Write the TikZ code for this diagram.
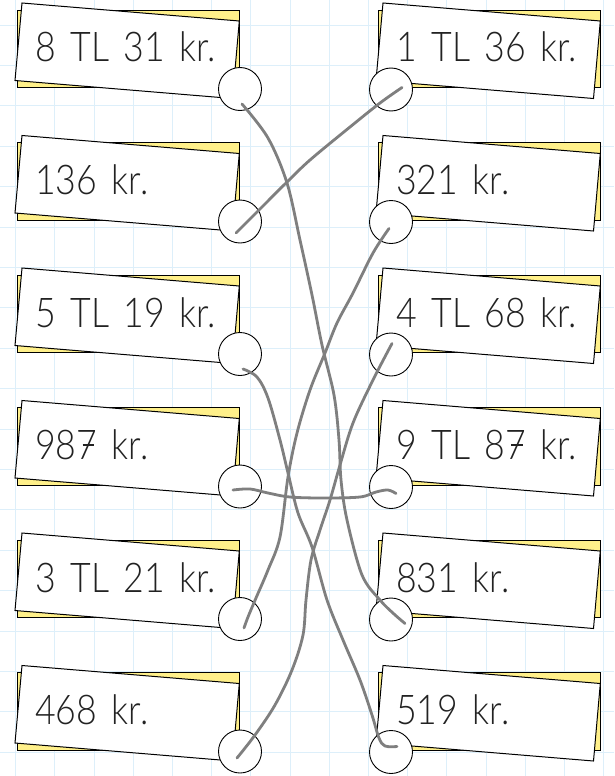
\documentclass[tikz,border=0pt]{standalone}
\usepackage{fontspec}
\setmainfont{Lato}[UprightFont={* Light}, FakeStretch=0.87, WordSpace=1.5]
\usepackage{xcolor}
\usepackage{tikz}
\usetikzlibrary{calc}

\definecolor{cardyellow}{HTML}{FFF08A}
\definecolor{gridblue}{HTML}{DDEFFA}
\definecolor{wiregray}{HTML}{7F7F7F}
\definecolor{inkgray}{HTML}{222222}
\newcommand{\sevbar}{\makebox[0pt][l]{\hspace{0.15em}\rule[0.34em]{0.27em}{0.05em}}7}

\begin{document}
\begin{tikzpicture}[
  x=1pt, y=-1pt,
  gridline/.style={draw=gridblue, line width=0.8pt},
  backcard/.style={fill=cardyellow, draw=black, line width=0.8pt},
  frontcard/.style={fill=white, draw=black, line width=1pt},
  amount/.style={anchor=base west, inner sep=0pt, text=inkgray,
    font=\fontsize{41}{41}\selectfont},
  dot/.style={circle, draw=black, fill=white, line width=0.9pt,
    minimum size=43pt, inner sep=0pt},
  wire/.style={draw=wiregray, line width=2.8pt, line cap=round, line join=round},
]
\useasboundingbox (0,0) rectangle (614,776);
\fill[white] (0,0) rectangle (614,776);

% Grid paper
\foreach \gx in {0,...,15} \draw[gridline] ({15.5+39.2*\gx},0) -- ++(0,776);
\foreach \gy in {0,...,18} \draw[gridline] (0,{25+40.4*\gy}) -- ++(614,0);

% Cards
\foreach \i in {1,...,6}{
  \begin{scope}[shift={(0,{132.5*(\i-1)})}]
    \draw[backcard] (17.5,10) rectangle (239.3,87.5);
    \draw[frontcard] (22,3) -- (239.3,21) -- (232.5,98.5) -- (15,80.5) -- cycle;
    \draw[backcard] (378.5,10) rectangle (600.3,87.5);
    \draw[frontcard] (383,3) -- (600.3,21) -- (593.5,98.5) -- (376,80.5) -- cycle;
  \end{scope}
}

% Amounts
\foreach \lab [count=\i] in {8 TL 31 kr., 136 kr., 5 TL 19 kr., 98\sevbar{} kr., 3 TL 21 kr., 468 kr.}
  \node[amount] (la\i) at (35,{62+132.5*(\i-1)}) {\lab};
\foreach \lab [count=\i] in {1 TL 36 kr., 321 kr., 4 TL 68 kr., 9 TL 8\sevbar{} kr., 831 kr., 519 kr.}
  \node[amount] (ra\i) at (396,{62+132.5*(\i-1)}) {\lab};

% Dots
\foreach \i in {1,...,6}{
  \node[dot] (lc\i) at (240,{89+132.5*(\i-1)}) {};
  \node[dot] (rc\i) at (391,{89.5+132.5*(\i-1)}) {};
}

% Matching lines
\draw[wire] plot[smooth, tension=0.55] coordinates {($(lc1)+(2,15)$) (268,138) (287,183) (300,240) (312,295) (322,345) (334,395) (339,440) (341,480) (347,520) (362,575) (380,600) (394,614) ($(rc5)+(14,4)$)};
\draw[wire] plot[smooth, tension=0.55] coordinates {($(lc2)+(-4,11.5)$) (262,207) (286,183) (310,160) (350,127) (380,103) ($(rc1)+(11,-2)$)};
\draw[wire] plot[smooth, tension=0.55] coordinates {($(lc3)+(3,15)$) (257,377) (268,398) (280,440) (288,473) (298,513) (312,547) (327,600) (343,640) (360,680) (372,715) (379,738) (385,746) ($(rc6)+(6,-5.5)$)};
\draw[wire] plot[smooth, tension=0.55] coordinates {($(lc4)+(-7,3.5)$) (250,489) (268,493) (290,497) (323,498) (360,497) (376,492) (388,490) ($(rc4)+(5,6.5)$)};
\draw[wire] plot[smooth, tension=0.55] coordinates {($(rc2)+(-2,6.5)$) (373,253) (353,293) (337,323) (325,353) (310,390) (297,433) (288,477) (280,537) (268,570) (256,598) (248,617) ($(lc5)+(4,9)$)};
\draw[wire] plot[smooth, tension=0.55] coordinates {($(rc3)+(1,-11)$) (373,380) (353,423) (340,465) (330,500) (320,530) (311,560) (306,600) (303,635) (292,670) (275,705) (255,735) ($(lc6)+(-3,6.5)$)};
\end{tikzpicture}
\end{document}
